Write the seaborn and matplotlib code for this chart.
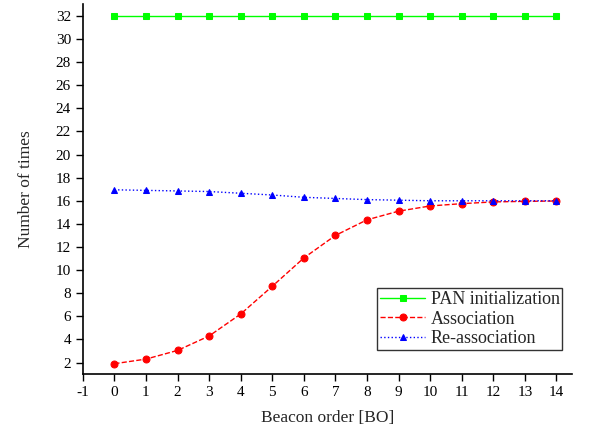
import pandas as pd
import numpy as np
import matplotlib
matplotlib.use('Agg')
import matplotlib.pyplot as plt
import seaborn as sns

# Values
beacon_order = list(range(0, 15))
pan_init = [32] * 15
association = [1.9, 2.3, 3.05, 4.3, 6.2, 8.6, 11.05, 13.0, 14.35, 15.1,
               15.55, 15.75, 15.9, 15.95, 15.98]
reassociation = [16.95, 16.9, 16.85, 16.8, 16.65, 16.5, 16.3, 16.2, 16.1,
                 16.05, 16.0, 16.0, 16.0, 16.0, 16.0]
series_names = ['PAN initialization', 'Association', 'Re-association']

sns.set_style('ticks')
plt.rcParams['font.family'] = ['Liberation Serif', 'DejaVu Serif']
plt.rcParams['axes.unicode_minus'] = False

fig = plt.figure(figsize=(5.96, 4.32), dpi=100)
ax = fig.add_axes([0.139, 0.134, 0.821, 0.856])

styles = [
    (pan_init, '#00FF00', '-', 's'),
    (association, '#FF0000', '--', 'o'),
    (reassociation, '#0000FF', ':', '^'),
]
for name, (vals, color, ls, mk) in zip(series_names, styles):
    sns.lineplot(x=beacon_order, y=vals, ax=ax, color=color, linestyle=ls,
                 marker=mk, markersize=5, markeredgecolor=color,
                 linewidth=1, label=name)

ax.set_xlim(-1, 14.5)
ax.set_ylim(1, 33)
ax.set_xticks(range(-1, 15))
ax.set_yticks(range(2, 33, 2))
ax.tick_params(direction='out', length=5, width=1, labelsize=11, colors='black')
for s in ['left', 'bottom']:
    ax.spines[s].set_linewidth(1.2)
    ax.spines[s].set_color('black')
sns.despine(ax=ax)

ax.set_xlabel('Beacon order [BO]', fontsize=12.5, labelpad=8)
ax.set_ylabel('Number of times', fontsize=12.5, labelpad=16)

leg = ax.legend(loc='lower right', bbox_to_anchor=(0.98, 0.065), fontsize=13,
                frameon=True, fancybox=False, edgecolor='black',
                handlelength=2.5, borderpad=0.15, labelspacing=0.15,
                handletextpad=0.3, borderaxespad=0)
leg.get_frame().set_linewidth(1)

fig.savefig('out.png', dpi=100)
